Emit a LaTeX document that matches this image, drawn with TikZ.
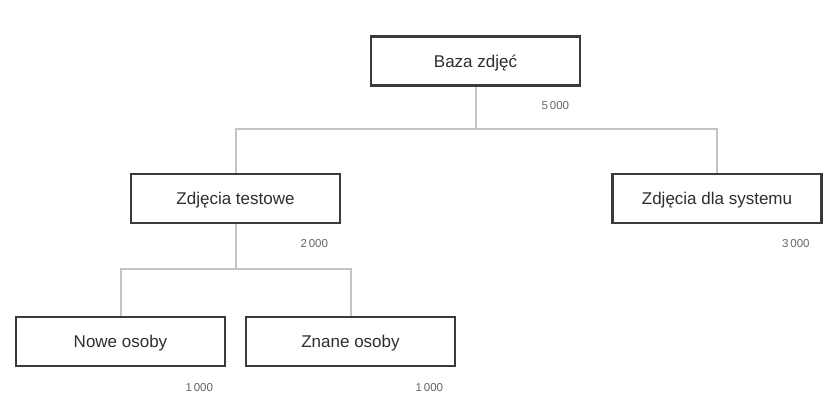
\documentclass[tikz,border=0pt]{standalone}
\usepackage{fontspec}
\setmainfont{Liberation Sans}
\usetikzlibrary{calc}
\definecolor{boxline}{HTML}{3A3A3A}
\definecolor{conn}{HTML}{C4C4C4}
\definecolor{txt}{HTML}{2E2E2E}
\definecolor{numc}{HTML}{666666}
\begin{document}
\begin{tikzpicture}[x=1pt,y=-1pt,
  box/.style={draw=boxline,line width=2.5pt,fill=white,minimum width=209pt,minimum height=49pt,inner sep=0pt,text=txt,text height=12pt,text depth=0pt,font=\fontsize{17}{19}\selectfont},
  cnx/.style={draw=conn,line width=2pt},
  num/.style={anchor=east,text=numc,font=\fontsize{11.5}{13}\selectfont,inner sep=0pt}]
\useasboundingbox (0,0) rectangle (836,418);
\node[box] (baza) at (475.5,61) {Baza zdjęć};
\node[box] (test) at (235.5,198.5) {Zdjęcia testowe};
\node[box] (sys) at (717,198.5) {Zdjęcia dla systemu};
\node[box] (nowe) at (120.5,341.5) {Nowe osoby};
\node[box] (znane) at (350.5,341.5) {Znane osoby};
\coordinate (j1) at (475.5,129);
\coordinate (j2) at (235.5,269);
\draw[cnx] (baza.south) -- (j1);
\draw[cnx] (j1) -| (test.north);
\draw[cnx] (j1) -| (sys.north);
\draw[cnx] (test.south) -- (j2);
\draw[cnx] (j2) -| (nowe.north);
\draw[cnx] (j2) -| (znane.north);
\node[num] (n1) at ($(baza.south east)+(-12,19)$) {5\,000};
\node[num] (n2) at ($(test.south east)+(-13,19.5)$) {2\,000};
\node[num] (n3) at ($(sys.south east)+(-13,19.5)$) {3\,000};
\node[num] (n4) at ($(nowe.south east)+(-13,20)$) {1\,000};
\node[num] (n5) at ($(znane.south east)+(-13,20)$) {1\,000};
\end{tikzpicture}
\end{document}
